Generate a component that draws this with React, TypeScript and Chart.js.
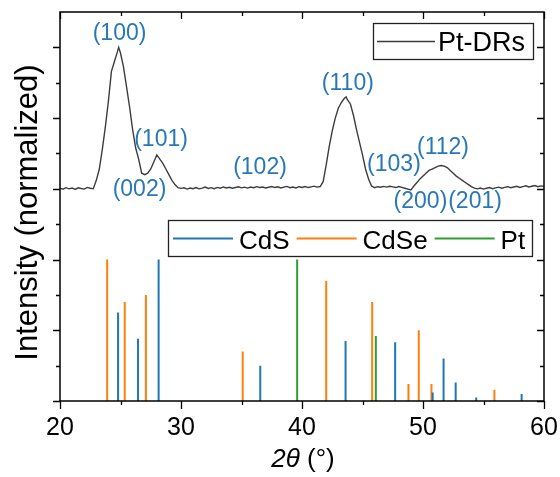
import React, { useEffect, useRef } from "react";
import { Chart, registerables } from "chart.js";

Chart.register(...registerables);

// ---- measured pattern (Pt-DRs), normalized intensity ----
const TWO_THETA = [
  20, 20.25, 20.5, 20.75,
  21, 21.25, 21.5, 21.75,
  22, 22.25, 22.5, 22.75,
  23, 23.25, 23.5, 23.75,
  24, 24.25, 24.5, 24.75, 24.85,
  25, 25.25, 25.5, 25.75,
  26, 26.25, 26.5, 26.75,
  27, 27.25, 27.5, 27.75,
  28, 28.25, 28.5, 28.75,
  29, 29.25, 29.5, 29.75,
  30, 30.25, 30.5, 30.75,
  31, 31.25, 31.5, 31.75,
  32, 32.25, 32.5, 32.75,
  33, 33.25, 33.5, 33.75,
  34, 34.25, 34.5, 34.75,
  35, 35.25, 35.5, 35.75,
  36, 36.25, 36.5, 36.75,
  37, 37.25, 37.5, 37.75,
  38, 38.25, 38.5, 38.75,
  39, 39.25, 39.5, 39.75,
  40, 40.25, 40.5, 40.75,
  41, 41.25, 41.5, 41.75,
  42, 42.25, 42.5, 42.75,
  43, 43.25, 43.5, 43.65, 43.75,
  44, 44.25, 44.5, 44.75,
  45, 45.25, 45.5, 45.75,
  46, 46.25, 46.5, 46.75,
  47, 47.25, 47.5, 47.75,
  48, 48.25, 48.5, 48.75,
  49, 49.25, 49.5, 49.75,
  50, 50.25, 50.5, 50.75,
  51, 51.25, 51.5, 51.75,
  52, 52.25, 52.5, 52.75,
  53, 53.25, 53.5, 53.75,
  54, 54.25, 54.5, 54.75,
  55, 55.25, 55.5, 55.75,
  56, 56.25, 56.5, 56.75,
  57, 57.25, 57.5, 57.75,
  58, 58.25, 58.5, 58.75,
  59, 59.25, 59.5, 59.75,
  60,
];
const PT_DRS = [
  0.005, -0.003, 0.008, 0.0,
  0.006, -0.004, 0.007, 0.002,
  -0.002, 0.01, 0.004, 0.0,
  0.06, 0.14, 0.28, 0.44,
  0.62, 0.83, 0.9, 0.97, 1.0,
  0.96, 0.86, 0.72, 0.58,
  0.42, 0.29, 0.21, 0.11,
  0.1, 0.11, 0.14, 0.19,
  0.24, 0.21, 0.18, 0.14,
  0.1, 0.06, 0.03, 0.008,
  0.003, 0.007, -0.002, 0.006,
  0.001, 0.009, 0.0, 0.005,
  0.012, 0.003, 0.008, 0.001,
  0.01, 0.004, 0.013, 0.006,
  0.011, 0.004, 0.009, 0.014,
  0.007, 0.012, 0.005, 0.013,
  0.008, 0.015, 0.009, 0.013,
  0.006, 0.011, 0.016, 0.009,
  0.014, 0.006, 0.012, 0.017,
  0.008, 0.013, 0.006, 0.015,
  0.01, 0.016, 0.009, 0.014,
  0.019, 0.012, 0.016, 0.05,
  0.17, 0.3, 0.41, 0.5,
  0.57, 0.61, 0.64, 0.65, 0.63,
  0.6, 0.52, 0.42, 0.33,
  0.24, 0.14, 0.07, 0.02,
  0.008, 0.015, 0.011, 0.017,
  0.012, 0.018, 0.014, 0.009,
  0.016, 0.01, 0.004, -0.002,
  -0.008, 0.02, 0.045, 0.07,
  0.09, 0.11, 0.13, 0.14,
  0.15, 0.16, 0.165, 0.16,
  0.15, 0.13, 0.11, 0.09,
  0.075, 0.06, 0.045, 0.03,
  0.015, 0.005, 0.0, 0.006,
  -0.002, 0.004, 0.009, 0.001,
  0.007, 0.012, 0.004, 0.01,
  0.015, 0.008, 0.013, 0.018,
  0.01, 0.016, 0.021, 0.013,
  0.018, 0.023, 0.015, 0.021,
  0.017,
];

// ---- reference patterns (relative intensity, %) ----
const CDS_POS = [24.8, 26.45, 28.15, 36.55, 43.6, 47.7, 50.8, 51.7, 52.7, 54.4, 58.15];
const CDS_INT = [62.5, 44, 100, 25, 42.5, 41.5, 6, 30, 13, 2.5, 5];
const CDSE_POS = [23.9, 25.35, 27.1, 35.1, 42.0, 45.8, 48.8, 49.65, 50.7, 55.9];
const CDSE_INT = [100, 70, 75, 35, 85, 70, 12, 50, 12, 8];
const PT_POS = [39.6, 46.1];
const PT_INT = [100, 46];

// ---- peak index labels (2θ, axis units) ----
const PEAK_TEXT = ["(100)", "(101)", "(002)", "(102)", "(110)", "(103)", "(112)", "(200)", "(201)"];
const PEAK_X = [24.92, 28.35, 26.57, 36.53, 43.79, 47.6, 51.65, 49.79, 54.3];
const PEAK_Y = [5.1, 3.6, 2.9, 3.21, 4.4, 3.25, 3.49, 2.73, 2.73];

// ---- axes ----
const X_MIN = 20;
const X_MAX = 60;
const X_MAJOR = [20, 30, 40, 50, 60];
const X_MINOR = [25, 35, 45, 55];
const Y_MIN = 0;
const Y_MAX = 5.5;
const Y_MAJOR = [0, 1, 2, 3, 4, 5];
const Y_MINOR = [0.5, 1.5, 2.5, 3.5, 4.5];

const PATTERN_OFFSET = 3;
const PATTERN_SCALE = 2;
const STICK_SCALE = 2 / 100;

const CURVE_COLOR = "#3d3d3d";
const BLUE = "#1f77b4";
const ORANGE = "#ff7f0e";
const GREEN = "#2ca02c";
const LABEL_BLUE = "#2878b8";
const FONT = '"Liberation Sans", Arial, Helvetica, sans-serif';

function sticks(pos: number[], inten: number[]) {
  const out: { x: number; y: number | null }[] = [];
  pos.forEach((p, i) => {
    out.push({ x: p, y: 0 });
    out.push({ x: p, y: inten[i] * STICK_SCALE });
    out.push({ x: p, y: null });
  });
  return out;
}

const decorPlugin = {
  id: "decor",
  afterDraw(chart: any) {
    const { ctx, chartArea: a } = chart;
    const xs = chart.scales.x;
    const ys = chart.scales.y;
    ctx.save();

    // frame
    ctx.strokeStyle = "#000";
    ctx.lineWidth = 1.5;
    ctx.strokeRect(a.left, a.top, a.right - a.left, a.bottom - a.top);

    // ticks
    ctx.lineWidth = 1.3;
    ctx.beginPath();
    const xt = (v: number, outLen: number, inLen: number) => {
      const px = Math.round(xs.getPixelForValue(v)) + 0.5;
      ctx.moveTo(px, a.bottom);
      ctx.lineTo(px, a.bottom + outLen);
      ctx.moveTo(px, a.top);
      ctx.lineTo(px, a.top + inLen);
    };
    X_MAJOR.forEach((v) => xt(v, 8, 7));
    X_MINOR.forEach((v) => xt(v, 4, 4));
    const yt = (v: number, outLen: number, inLen: number) => {
      const py = Math.round(ys.getPixelForValue(v)) + 0.5;
      ctx.moveTo(a.left, py);
      ctx.lineTo(a.left - outLen, py);
      ctx.moveTo(a.right, py);
      ctx.lineTo(a.right - inLen, py);
    };
    Y_MAJOR.forEach((v) => yt(v, 7, 7));
    Y_MINOR.forEach((v) => yt(v, 4, 4));
    ctx.stroke();

    // x tick labels
    ctx.fillStyle = "#000";
    ctx.font = `25px ${FONT}`;
    ctx.textAlign = "center";
    ctx.textBaseline = "alphabetic";
    X_MAJOR.forEach((v) => {
      ctx.fillText(String(v), xs.getPixelForValue(v), a.bottom + 34);
    });

    // x title: 2θ (°)
    const cx = (a.left + a.right) / 2 + 1;
    ctx.font = `italic 26px ${FONT}`;
    const w1 = ctx.measureText("2θ").width;
    ctx.font = `26px ${FONT}`;
    const w2 = ctx.measureText(" (°)").width;
    let sx = cx - (w1 + w2) / 2;
    ctx.textAlign = "left";
    ctx.font = `italic 26px ${FONT}`;
    ctx.fillText("2θ", sx, a.bottom + 66);
    ctx.font = `26px ${FONT}`;
    ctx.fillText(" (°)", sx + w1, a.bottom + 66);

    // y title
    ctx.save();
    ctx.translate(37, 212.5);
    ctx.rotate(-Math.PI / 2);
    ctx.textAlign = "center";
    ctx.font = `31px ${FONT}`;
    ctx.fillText("Intensity (normalized)", 0, 0);
    ctx.restore();

    // peak labels
    ctx.fillStyle = LABEL_BLUE;
    ctx.font = `23px ${FONT}`;
    ctx.textAlign = "center";
    PEAK_TEXT.forEach((t, i) => {
      ctx.fillText(t, xs.getPixelForValue(PEAK_X[i]), ys.getPixelForValue(PEAK_Y[i]));
    });

    // legend 1 (Pt-DRs)
    ctx.strokeStyle = "#222";
    ctx.lineWidth = 1.3;
    ctx.strokeRect(373.5, 23.5, 160, 36);
    ctx.strokeStyle = CURVE_COLOR;
    ctx.lineWidth = 1.5;
    ctx.beginPath();
    ctx.moveTo(377, 41.5);
    ctx.lineTo(435, 41.5);
    ctx.stroke();
    ctx.fillStyle = "#000";
    ctx.textAlign = "left";
    ctx.font = `27px ${FONT}`;
    ctx.fillText(chart.data.datasets[0].label, 438, 50.5);

    // legend 2 (references)
    ctx.strokeStyle = "#222";
    ctx.lineWidth = 1.3;
    ctx.strokeRect(168.5, 220.5, 364, 36);
    ctx.font = `26px ${FONT}`;
    let lx = 173;
    for (let i = 1; i < chart.data.datasets.length; i++) {
      const ds = chart.data.datasets[i];
      ctx.strokeStyle = ds.borderColor;
      ctx.lineWidth = 2;
      ctx.beginPath();
      ctx.moveTo(lx, 238.5);
      ctx.lineTo(lx + 60, 238.5);
      ctx.stroke();
      ctx.fillStyle = "#000";
      ctx.fillText(ds.label, lx + 66, 248.5);
      lx = lx + 66 + ctx.measureText(ds.label).width + 7;
    }

    ctx.restore();
  },
};

export default function App() {
  const ref = useRef<HTMLCanvasElement | null>(null);

  useEffect(() => {
    if (!ref.current) return;
    const curve = TWO_THETA.map((x, i) => ({ x, y: PATTERN_OFFSET + PATTERN_SCALE * PT_DRS[i] }));
    const chart = new Chart(ref.current, {
      type: "line",
      data: {
        datasets: [
          {
            label: "Pt-DRs",
            data: curve,
            borderColor: CURVE_COLOR,
            borderWidth: 1.4,
            pointRadius: 0,
            tension: 0,
          },
          {
            label: "CdS",
            data: sticks(CDS_POS, CDS_INT),
            borderColor: BLUE,
            borderWidth: 2,
            pointRadius: 0,
            spanGaps: false,
            borderCapStyle: "butt",
          },
          {
            label: "CdSe",
            data: sticks(CDSE_POS, CDSE_INT),
            borderColor: ORANGE,
            borderWidth: 2,
            pointRadius: 0,
            spanGaps: false,
            borderCapStyle: "butt",
          },
          {
            label: "Pt",
            data: sticks(PT_POS, PT_INT),
            borderColor: GREEN,
            borderWidth: 2,
            pointRadius: 0,
            spanGaps: false,
            borderCapStyle: "butt",
          },
        ],
      },
      options: {
        animation: false,
        responsive: false,
        maintainAspectRatio: false,
        parsing: true,
        layout: { padding: { left: 60, right: 16, top: 12, bottom: 76 } },
        plugins: { legend: { display: false }, tooltip: { enabled: false } },
        scales: {
          x: { type: "linear", min: X_MIN, max: X_MAX, display: false },
          y: { type: "linear", min: Y_MIN, max: Y_MAX, display: false },
        },
      } as any,
      plugins: [decorPlugin],
    });
    return () => chart.destroy();
  }, []);

  return (
    <div style={{ position: "fixed", left: 0, top: 0, width: 560, height: 477, background: "#fff" }}>
      <canvas ref={ref} width={560} height={477} style={{ display: "block" }} />
    </div>
  );
}
